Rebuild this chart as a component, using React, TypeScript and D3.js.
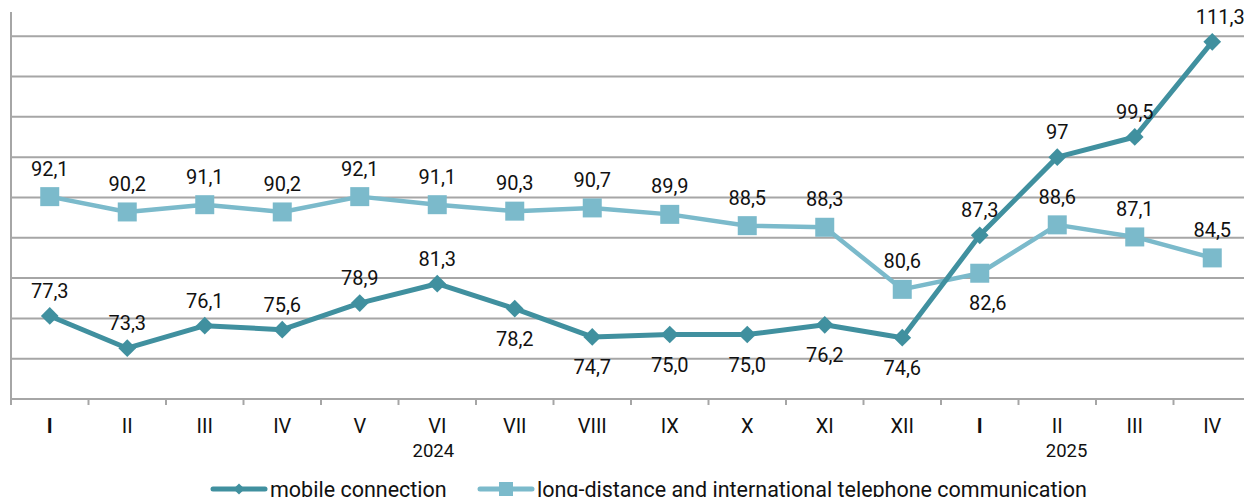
import React, { useEffect, useRef } from "react";
import * as d3 from "d3";

const months = ["I", "II", "III", "IV", "V", "VI", "VII", "VIII", "IX", "X", "XI", "XII", "I", "II", "III", "IV"];
const mobile = [77.3, 73.3, 76.1, 75.6, 78.9, 81.3, 78.2, 74.7, 75.0, 75.0, 76.2, 74.6, 87.3, 97, 99.5, 111.3];
const mobileLabels = ["77,3", "73,3", "76,1", "75,6", "78,9", "81,3", "78,2", "74,7", "75,0", "75,0", "76,2", "74,6", "87,3", "97", "99,5", "111,3"];
const mobileBelow = [false, false, false, false, false, false, true, true, true, true, true, true, false, false, false, false];
const longDistance = [92.1, 90.2, 91.1, 90.2, 92.1, 91.1, 90.3, 90.7, 89.9, 88.5, 88.3, 80.6, 82.6, 88.6, 87.1, 84.5];
const longLabels = ["92,1", "90,2", "91,1", "90,2", "92,1", "91,1", "90,3", "90,7", "89,9", "88,5", "88,3", "80,6", "82,6", "88,6", "87,1", "84,5"];
const longBelow = [false, false, false, false, false, false, false, false, false, false, false, false, true, false, false, false];
const years = [
  { label: "2024", at: 5, shift: -0.05 },
  { label: "2025", at: 13, shift: 0.12 },
];
const gridTicks = [67, 72, 77, 82, 87, 92, 97, 102, 107, 112];
const legendItems = ["mobile connection", "long-distance and international telephone communication"];

const W = 1244;
const H = 497;
const DARK = "#40909f";
const LIGHT = "#7bbacb";
const GRID = "#a6a6a6";
const FONT = "Roboto, 'Noto Sans', sans-serif";

const App: React.FC = () => {
  const svgRef = useRef<SVGSVGElement | null>(null);

  useEffect(() => {
    if (!svgRef.current) return;
    const svg = d3.select(svgRef.current);
    svg.selectAll("*").remove();

    const left = 11;
    const right = 1251;
    const top = 12;
    const bottom = 399;

    const x = d3.scaleBand<number>().domain(d3.range(months.length)).range([left, right]);
    const cx = (i: number) => (x(i) as number) + x.bandwidth() / 2;
    const y = d3.scaleLinear().domain([67, 115]).range([bottom, top]);

    // gridlines
    svg.append("g")
      .selectAll("line")
      .data(gridTicks.slice(1))
      .enter()
      .append("line")
      .attr("x1", left)
      .attr("x2", W)
      .attr("y1", (d) => y(d))
      .attr("y2", (d) => y(d))
      .attr("stroke", GRID)
      .attr("stroke-width", 2);

    // axes
    svg.append("line")
      .attr("x1", left).attr("x2", W)
      .attr("y1", bottom).attr("y2", bottom)
      .attr("stroke", GRID).attr("stroke-width", 2);
    svg.append("line")
      .attr("x1", left).attr("x2", left)
      .attr("y1", top).attr("y2", bottom + 6)
      .attr("stroke", GRID).attr("stroke-width", 2);
    svg.append("g")
      .selectAll("line")
      .data(d3.range(1, months.length))
      .enter()
      .append("line")
      .attr("x1", (i) => x(i) as number)
      .attr("x2", (i) => x(i) as number)
      .attr("y1", bottom)
      .attr("y2", bottom + 6)
      .attr("stroke", GRID)
      .attr("stroke-width", 2);

    // month labels
    svg.append("g")
      .selectAll("text")
      .data(months)
      .enter()
      .append("text")
      .attr("x", (_, i) => cx(i))
      .attr("y", 433)
      .attr("text-anchor", "middle")
      .attr("font-family", FONT)
      .attr("font-size", 20)
      .attr("font-weight", (d) => (d === "I" ? 700 : 400))
      .attr("fill", "#111")
      .text((d) => d);

    svg.append("g")
      .selectAll("text")
      .data(years)
      .enter()
      .append("text")
      .attr("x", (d) => cx(d.at) + d.shift * x.bandwidth())
      .attr("y", 457)
      .attr("text-anchor", "middle")
      .attr("font-family", FONT)
      .attr("font-size", 18.5)
      .attr("fill", "#111")
      .text((d) => d.label);

    const line = d3.line<number>().x((_, i) => cx(i)).y((d) => y(d));

    // long-distance series
    svg.append("path")
      .datum(longDistance)
      .attr("d", line)
      .attr("fill", "none")
      .attr("stroke", LIGHT)
      .attr("stroke-width", 4.5)
      .attr("stroke-linejoin", "round");
    svg.append("g")
      .selectAll("rect")
      .data(longDistance)
      .enter()
      .append("rect")
      .attr("x", (_, i) => cx(i) - 9.5)
      .attr("y", (d) => y(d) - 9.5)
      .attr("width", 19)
      .attr("height", 19)
      .attr("fill", LIGHT);

    // mobile series
    svg.append("path")
      .datum(mobile)
      .attr("d", line)
      .attr("fill", "none")
      .attr("stroke", DARK)
      .attr("stroke-width", 5)
      .attr("stroke-linejoin", "round");
    const diamond = d3.symbol().type(d3.symbolDiamond2).size(200);
    svg.append("g")
      .selectAll("path")
      .data(mobile)
      .enter()
      .append("path")
      .attr("d", diamond)
      .attr("transform", (d, i) => `translate(${cx(i)},${y(d)})`)
      .attr("fill", DARK);

    // data labels
    const labelGroup = (vals: number[], labels: string[], below: boolean[], above: number) =>
      svg.append("g")
        .selectAll("text")
        .data(vals)
        .enter()
        .append("text")
        .attr("x", (_, i) => cx(i) + (labels[i] === "111,3" || labels[i] === "82,6" ? 8 : 0))
        .attr("y", (d, i) => y(d) + (below[i] ? 37 : above))
        .attr("text-anchor", "middle")
        .attr("font-family", FONT)
        .attr("font-size", 20)
        .attr("fill", "#111")
        .text((_, i) => labels[i]);
    labelGroup(longDistance, longLabels, longBelow, -21);
    labelGroup(mobile, mobileLabels, mobileBelow, -18);

    // legend
    const legend = svg.append("g").attr("transform", "translate(0,489)");
    const lx = [211, 478];
    legendItems.forEach((label, k) => {
      const color = k === 0 ? DARK : LIGHT;
      const g = legend.append("g").attr("transform", `translate(${lx[k]},0)`);
      g.append("line")
        .attr("x1", 2).attr("x2", 54)
        .attr("y1", 0).attr("y2", 0)
        .attr("stroke", color).attr("stroke-width", 5)
        .attr("stroke-linecap", "round");
      if (k === 0) {
        g.append("path")
          .attr("d", d3.symbol().type(d3.symbolDiamond2).size(80)())
          .attr("transform", "translate(28,0)")
          .attr("fill", color);
      } else {
        g.append("rect")
          .attr("x", 21).attr("y", -7)
          .attr("width", 14).attr("height", 14)
          .attr("fill", color);
      }
      g.append("text")
        .attr("x", 59)
        .attr("y", 7.5)
        .attr("font-family", FONT)
        .attr("font-size", 21.5)
        .attr("fill", "#111")
        .text(label);
    });
  }, []);

  return (
    <svg
      ref={svgRef}
      width={W}
      height={H}
      style={{ position: "fixed", left: 0, top: 0, background: "#fff" }}
    />
  );
};

export default App;
